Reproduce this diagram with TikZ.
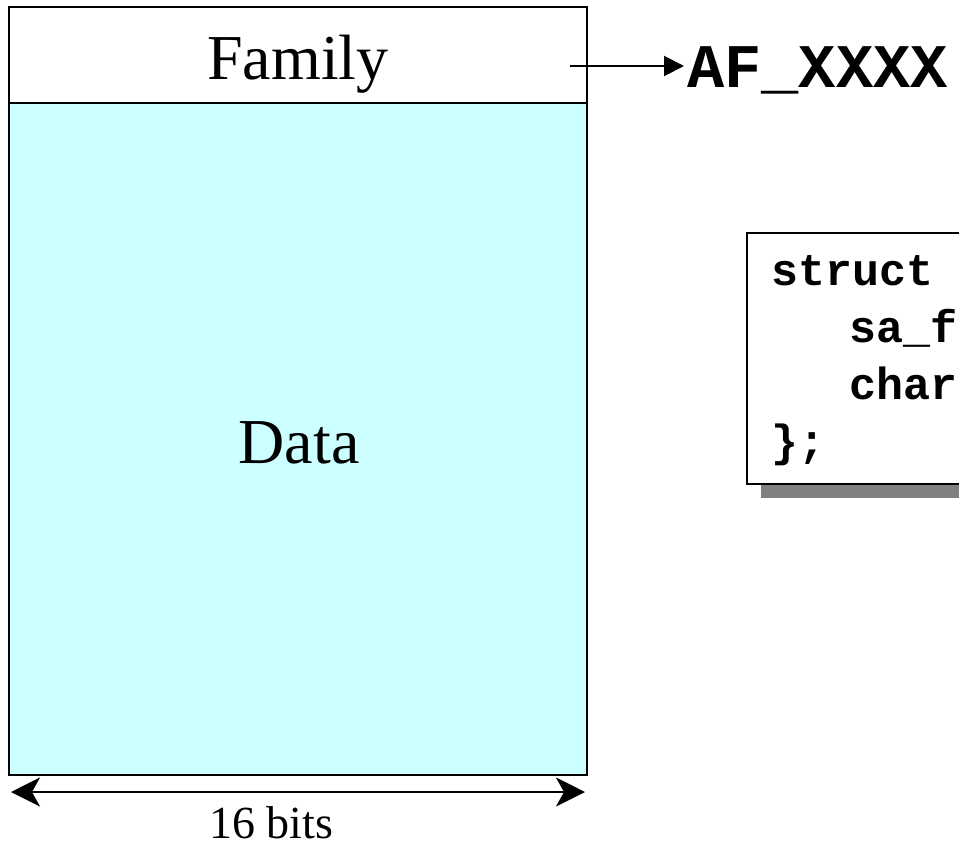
\documentclass[tikz,border=0pt]{standalone}
\usepackage{fontspec}
\setmainfont{Liberation Serif}
\setmonofont{Liberation Mono}
\usepackage{xcolor}
\usetikzlibrary{arrows.meta, positioning}

\definecolor{datacyan}{HTML}{CCFFFF}
\definecolor{shadowgray}{HTML}{808080}

\begin{document}
\begin{tikzpicture}[x=1pt, y=-1pt,
    field/.style={draw=black, line width=2pt, inner sep=0pt, minimum width=578pt},
    word/.style={inner sep=0pt, anchor=base, font=\fontsize{64}{70}\selectfont},
    code/.style={inner sep=0pt, anchor=base west, font=\fontsize{45}{50}\selectfont\ttfamily\bfseries}]
\useasboundingbox (0,0) rectangle (959,852);
\clip (0,0) rectangle (959,852);

\node[field, fill=white, minimum height=96pt] (family) at (298, 55) {};
\node[field, fill=datacyan, minimum height=672pt] (data) at (298, 439) {};
\node[word] (familytxt) at (298, 79) {Family};
\node[word] (datatxt) at (299, 463) {Data};
\node[word, font=\fontsize{46}{50}\selectfont] (bits) at (271, 838) {16 bits};

\node[inner sep=0pt, anchor=base west, font=\fontsize{62}{66}\selectfont\ttfamily\bfseries] (af) at (687, 87) {AF\_XXXX};
\coordinate (famout) at (570, 66);
\draw[line width=2pt, -{Triangle[length=20pt, width=20pt]}, shorten >=3pt] (famout) -- (af.west |- famout);

\coordinate (bitsleft) at (11, 792);
\coordinate (bitsright) at (585, 792);
\draw[line width=2pt, {Stealth[length=29pt, width=29pt, inset=8pt]}-{Stealth[length=29pt, width=29pt, inset=8pt]}] (bitsleft) -- (bitsright);

% struct box, cut off at the right edge
\fill[shadowgray] (761, 247) rectangle (1020, 498);
\node[draw=black, line width=1.5pt, fill=white, inner sep=0pt, minimum width=274pt, minimum height=251pt, anchor=north west] (structbox) at (746, 232) {};
\node[code] (l1) at (771, 285) {struct};
\node[code] (l2) at (849, 342) {sa\_f};
\node[code] (l3) at (849, 399) {char};
\node[code] (l4) at (771, 456) {\};};
\end{tikzpicture}
\end{document}
